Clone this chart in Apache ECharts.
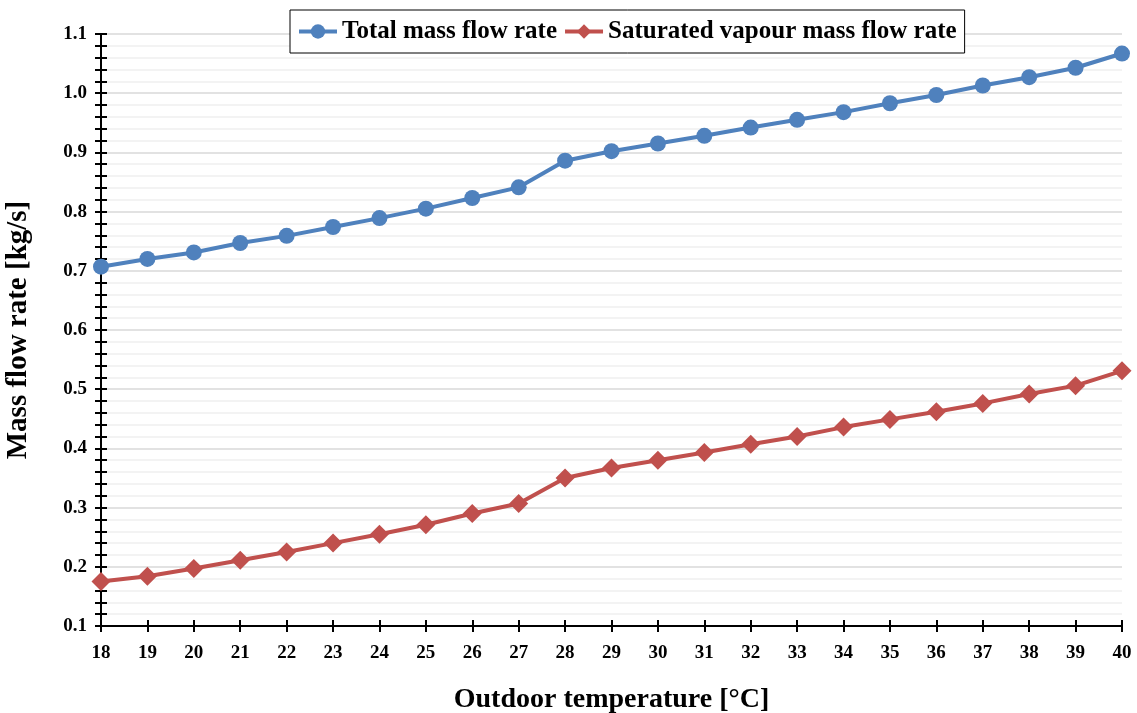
<!DOCTYPE html>
<html><head><meta charset="utf-8">
<script src="https://cdn.jsdelivr.net/npm/echarts@6/dist/echarts.min.js"></script>
<style>html,body{margin:0;padding:0;background:#fff}#c{width:1137px;height:713px}</style>
</head><body><div id="c"></div>
<script>
const categories = ['18','19','20','21','22','23','24','25','26','27','28','29','30','31','32','33','34','35','36','37','38','39','40'];
const totalFlow = [0.707,0.720,0.731,0.747,0.759,0.774,0.789,0.805,0.823,0.841,0.886,0.902,0.915,0.928,0.942,0.955,0.968,0.983,0.997,1.013,1.027,1.043,1.067];
const vapourFlow = [0.175,0.184,0.197,0.211,0.225,0.240,0.255,0.271,0.290,0.307,0.350,0.367,0.380,0.393,0.407,0.420,0.436,0.449,0.462,0.476,0.492,0.506,0.531];
const seriesNames = ['Total mass flow rate','Saturated vapour mass flow rate'];
const xTitle = 'Outdoor temperature [°C]';
const yTitle = 'Mass flow rate [kg/s]';

const font = '"Liberation Serif", "Times New Roman", serif';
const chart = echarts.init(document.getElementById('c'));
const tickStyle = {color:'#000', width:2};
chart.setOption({
  animation:false,
  backgroundColor:'#fff',
  grid:{left:101, right:15, top:34, bottom:87, containLabel:false, outerBoundsMode:'none'},
  legend:{
    data:[seriesNames[0], seriesNames[1]],
    left:290, top:10, padding:[9,8,9,7], itemGap:6,
    borderColor:'#000', borderWidth:1, backgroundColor:'#fff',
    itemWidth:38, itemHeight:18,
    lineStyle:{width:4},
    textStyle:{fontFamily:font, fontWeight:'bold', fontSize:25, color:'#000'}
  },
  xAxis:[{
    type:'category', data:categories, boundaryGap:false,
    name:xTitle, nameLocation:'middle', nameGap:60,
    nameTextStyle:{fontFamily:font, fontWeight:'bold', fontSize:28, color:'#000'},
    axisLine:{lineStyle:{color:'#000', width:2}},
    axisTick:{show:true, inside:false, length:6, lineStyle:tickStyle},
    axisLabel:{fontFamily:font, fontWeight:'bold', fontSize:19, color:'#000', margin:18},
    splitLine:{show:false}
  },{
    type:'category', data:categories, boundaryGap:false, position:'bottom',
    axisLine:{show:false}, axisLabel:{show:false},
    axisTick:{show:true, inside:true, length:6, lineStyle:tickStyle}
  }],
  yAxis:[{
    type:'value', min:0.1, max:1.1, interval:0.1,
    name:yTitle, nameLocation:'middle', nameGap:68, nameRotate:90,
    nameTextStyle:{fontFamily:font, fontWeight:'bold', fontSize:29, color:'#000'},
    axisLine:{show:true, lineStyle:{color:'#000', width:2}},
    axisTick:{show:true, inside:false, length:6, lineStyle:tickStyle},
    minorTick:{show:true, splitNumber:5, length:6, lineStyle:tickStyle},
    axisLabel:{fontFamily:font, fontWeight:'bold', fontSize:19, color:'#000', margin:14,
      formatter:v=>v.toFixed(1)},
    splitLine:{show:true, lineStyle:{color:'#d9d9d9', width:1.5}},
    minorSplitLine:{show:true, lineStyle:{color:'#efefef', width:1.5}}
  },{
    type:'value', min:0.1, max:1.1, interval:0.1, position:'left',
    axisLine:{show:false}, axisLabel:{show:false}, splitLine:{show:false},
    axisTick:{show:true, inside:true, length:6, lineStyle:tickStyle},
    minorTick:{show:true, splitNumber:5, length:6, lineStyle:tickStyle}
  }],
  series:[{
    name:seriesNames[0], type:'line', data:totalFlow,
    symbol:'circle', symbolSize:16, color:'#4f81bd',
    lineStyle:{width:4, color:'#4f81bd'}, itemStyle:{color:'#4f81bd'}, z:3
  },{
    name:seriesNames[1], type:'line', data:vapourFlow,
    symbol:'diamond', symbolSize:19, color:'#c0504d',
    lineStyle:{width:4, color:'#c0504d'}, itemStyle:{color:'#c0504d'}, z:3
  }]
});
</script></body></html>
